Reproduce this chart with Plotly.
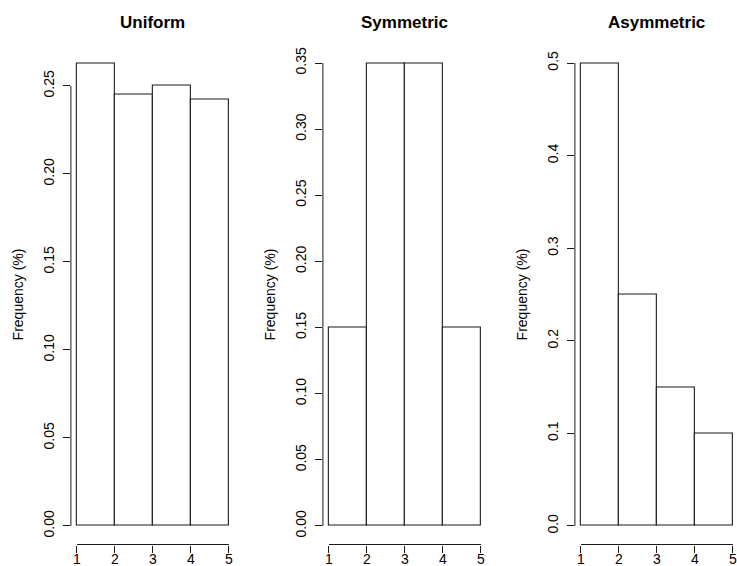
import plotly.graph_objects as go

# Histogram bins (shared by all three panels) and relative frequencies
bin_edges = [1, 2, 3, 4, 5]
uniform_freq = [0.263, 0.245, 0.250, 0.242]
symmetric_freq = [0.15, 0.35, 0.35, 0.15]
asymmetric_freq = [0.50, 0.25, 0.15, 0.10]

panel_titles = ["Uniform", "Symmetric", "Asymmetric"]
y_tick_values = [
    [0.00, 0.05, 0.10, 0.15, 0.20, 0.25],
    [0.00, 0.05, 0.10, 0.15, 0.20, 0.25, 0.30, 0.35],
    [0.0, 0.1, 0.2, 0.3, 0.4, 0.5],
]
y_tick_text = [
    ["0.00", "0.05", "0.10", "0.15", "0.20", "0.25"],
    ["0.00", "0.05", "0.10", "0.15", "0.20", "0.25", "0.30", "0.35"],
    ["0.0", "0.1", "0.2", "0.3", "0.4", "0.5"],
]
x_tick_values = [1, 2, 3, 4, 5]
y_label = "Frequency (%)"

W, H = 737, 566
FONT = "Liberation Sans, Arial, Helvetica, sans-serif"
INK = "#1a1a1a"

series = [uniform_freq, symmetric_freq, asymmetric_freq]

# plot regions in pixels (left edge) and shared vertical extent
px_left = [70.9, 322.9, 574.9]
px_per_unit = 38.0
top_px, bottom_px = 44.5, 544.5

fig = go.Figure()

for i, freq in enumerate(series):
    n = i + 1
    xa = "x" if n == 1 else f"x{n}"
    ya = "y" if n == 1 else f"y{n}"
    centers = [(a + b) / 2 for a, b in zip(bin_edges[:-1], bin_edges[1:])]
    widths = [b - a for a, b in zip(bin_edges[:-1], bin_edges[1:])]
    fig.add_trace(go.Bar(
        x=centers, y=freq, width=widths,
        marker=dict(color="white", line=dict(color=INK, width=1.1)),
        xaxis=xa, yaxis=ya, showlegend=False, hoverinfo="skip",
    ))

    # R-style 4% padding around the data range
    x_lo = bin_edges[0] - 0.04 * (bin_edges[-1] - bin_edges[0])
    x_hi = bin_edges[-1] + 0.04 * (bin_edges[-1] - bin_edges[0])
    ymax = max(freq)
    y_lo, y_hi = -0.04 * ymax, ymax * 1.04

    left = px_left[i]
    right = left + (x_hi - x_lo) * px_per_unit
    if right > W:
        x_hi = x_lo + (W - left) / px_per_unit
        right = W
    key = "" if n == 1 else str(n)
    fig.update_layout(**{
        f"xaxis{key}": dict(
            domain=[left / W, right / W], range=[x_lo, x_hi], anchor=ya,
            tickvals=x_tick_values, ticktext=[str(v) for v in x_tick_values],
            ticks="outside", ticklen=7, tickcolor=INK, tickwidth=1,
            ticklabelstandoff=-5, ticklabeloverflow="allow",
            showline=False, zeroline=False, showgrid=False, automargin=False,
            tickfont=dict(family=FONT, size=14, color="black"),
            fixedrange=True,
        ),
        f"yaxis{key}": dict(
            domain=[1 - bottom_px / H, 1 - top_px / H], range=[y_lo, y_hi], anchor=xa,
            tickvals=y_tick_values[i], ticktext=y_tick_text[i], tickangle=-90,
            ticks="outside", ticklen=7, tickcolor=INK, tickwidth=1,
            ticklabelstandoff=3, ticklabeloverflow="allow",
            showline=False, zeroline=False, showgrid=False, automargin=False,
            tickfont=dict(family=FONT, size=14, color="black"),
            fixedrange=True,
        ),
    })

    # axis lines spanning only the first to last tick
    fig.add_shape(type="line", xref=xa, yref=f"{ya} domain",
                  x0=x_tick_values[0], x1=x_tick_values[-1], y0=0, y1=0,
                  line=dict(color=INK, width=1))
    fig.add_shape(type="line", xref=f"{xa} domain", yref=ya,
                  x0=0, x1=0, y0=y_tick_values[i][0], y1=y_tick_values[i][-1],
                  line=dict(color=INK, width=1))

    # panel title and y-axis label
    mid = (bin_edges[0] + bin_edges[-1]) / 2
    fig.add_annotation(text=f"<b>{panel_titles[i]}</b>", xref=xa, yref="paper",
                       x=mid, y=1 - 22 / H, yanchor="middle", showarrow=False,
                       font=dict(family=FONT, size=17, color="black"))
    fig.add_annotation(text=y_label, xref="paper", yref="paper",
                       x=(left - 53) / W, y=1 - (top_px + bottom_px) / 2 / H,
                       xanchor="center", yanchor="middle", textangle=-90,
                       showarrow=False,
                       font=dict(family=FONT, size=14, color="black"))

fig.update_layout(
    template="none",
    width=W, height=H,
    margin=dict(l=0, r=0, t=0, b=0, autoexpand=False),
    paper_bgcolor="white", plot_bgcolor="white",
    bargap=0,
)

fig.write_html("out.html", config={"displayModeBar": False})
